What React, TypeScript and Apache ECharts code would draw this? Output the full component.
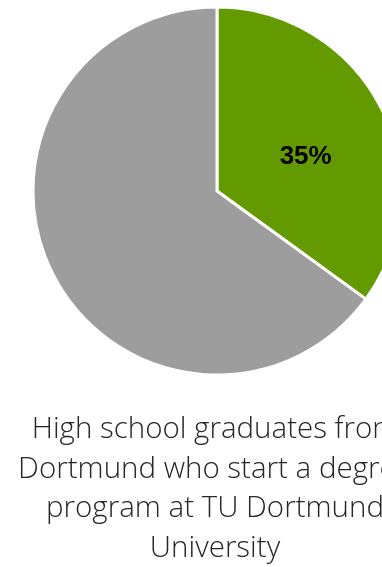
import React, { useEffect, useRef } from "react";
import * as echarts from "echarts";

const categories = ["Start degree at TU Dortmund", "Other"];
const values = [35, 65];
const colors = ["#639a00", "#9c9d9c"];
const caption = "High school graduates from\nDortmund who start a degree\nprogram at TU Dortmund\nUniversity";

export default function App() {
  const ref = useRef<HTMLDivElement>(null);
  useEffect(() => {
    const chart = echarts.init(ref.current!, null, { renderer: "svg" });
    chart.setOption({
      animation: false,
      graphic: [
        {
          type: "text",
          x: 215,
          y: 407,
          style: {
            text: caption,
            textAlign: "center",
            textVerticalAlign: "top",
            font: "300 29.5px 'Open Sans'",
            lineHeight: 39.5,
            fill: "#262626",
          },
        },
      ],
      series: [
        {
          type: "pie",
          center: [217, 191],
          radius: 184,
          startAngle: 90,
          clockwise: true,
          itemStyle: { borderColor: "#ffffff", borderWidth: 3 },
          label: {
            show: true,
            position: "inside",
            formatter: (p: any) => (p.dataIndex === 0 ? p.value + "%" : ""),
            color: "#000000",
            fontFamily: "Liberation Sans",
            fontWeight: "bold",
            fontSize: 26,
            offset: [4, 7],
          },
          labelLine: { show: false },
          emphasis: { disabled: true },
          data: categories.map((c, i) => ({ name: c, value: values[i], itemStyle: { color: colors[i] } })),
        },
      ],
    });
    return () => chart.dispose();
  }, []);
  return <div ref={ref} style={{ position: "fixed", left: 0, top: 0, width: 382, height: 567 }} />;
}
